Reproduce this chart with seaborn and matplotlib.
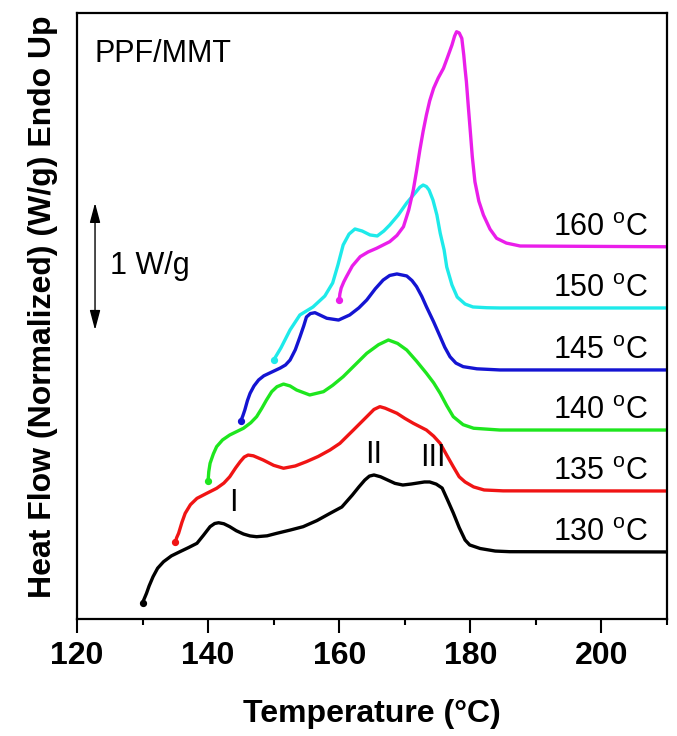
import numpy as np
import pandas as pd
import seaborn as sns
import matplotlib.pyplot as plt
from matplotlib.ticker import MultipleLocator

# curves (already stacked), temperature in C, heat flow in W/g
t130 = [130.0, 130.3, 130.6, 131.0, 131.6, 132.3, 133.2, 134.4, 135.7, 137.0, 138.3, 139.3,
        140.3, 141.0, 141.6, 142.4, 143.3, 144.3, 145.4, 146.4, 147.4, 149.0, 150.5, 152.5,
        154.5, 156.6, 158.6, 160.4, 162.0, 163.0, 163.9, 164.6, 165.3, 166.3, 167.4, 168.5,
        169.7, 171.0, 172.0, 173.0, 173.8, 174.8, 175.7, 176.5, 177.4, 178.3, 179.2, 179.9,
        181.5, 183.8, 186.0, 210.0]
h130 = [0.128, 0.165, 0.202, 0.260, 0.333, 0.400, 0.451, 0.497, 0.530, 0.562, 0.596, 0.660,
        0.727, 0.752, 0.758, 0.750, 0.727, 0.695, 0.669, 0.654, 0.648, 0.655, 0.675, 0.700,
        0.727, 0.775, 0.832, 0.882, 0.976, 1.040, 1.094, 1.125, 1.134, 1.120, 1.094, 1.068,
        1.055, 1.063, 1.071, 1.079, 1.079, 1.062, 1.031, 0.940, 0.835, 0.720, 0.622, 0.583,
        0.555, 0.535, 0.530, 0.528]

t135 = [135.0, 135.2, 135.5, 136.0, 136.5, 137.3, 138.3, 139.8, 141.3, 142.4, 143.3, 144.2,
        144.9, 145.5, 146.1, 146.9, 148.4, 150.0, 151.5, 153.3, 155.0, 156.8, 158.6, 160.1,
        162.2, 164.2, 165.3, 166.2, 167.0, 168.8, 170.0, 171.3, 173.3, 174.4, 175.4, 176.4,
        177.4, 178.3, 179.2, 180.5, 182.1, 185.0, 210.0]
h135 = [0.604, 0.640, 0.675, 0.760, 0.832, 0.900, 0.950, 0.990, 1.029, 1.070, 1.120, 1.190,
        1.239, 1.275, 1.291, 1.285, 1.252, 1.210, 1.187, 1.205, 1.239, 1.280, 1.331, 1.383,
        1.490, 1.593, 1.650, 1.672, 1.660, 1.620, 1.580, 1.541, 1.488, 1.440, 1.383, 1.290,
        1.199, 1.120, 1.079, 1.040, 1.016, 1.009, 1.008]

t140 = [140.0, 140.1, 140.3, 140.8, 141.3, 142.2, 143.3, 145.4, 146.5, 147.4, 148.2, 148.9,
        149.7, 150.5, 151.5, 152.5, 153.5, 155.5, 157.6, 159.0, 160.6, 162.4, 164.2, 166.0,
        167.5, 168.9, 170.3, 171.8, 173.3, 174.4, 175.4, 176.4, 177.4, 178.9, 180.5, 184.5,
        210.0]
h140 = [1.089, 1.160, 1.226, 1.300, 1.357, 1.410, 1.449, 1.502, 1.545, 1.593, 1.660, 1.724,
        1.790, 1.829, 1.850, 1.835, 1.803, 1.764, 1.790, 1.840, 1.908, 2.000, 2.092, 2.160,
        2.197, 2.170, 2.118, 2.030, 1.935, 1.860, 1.777, 1.680, 1.593, 1.530, 1.502, 1.488,
        1.488]

t145 = [145.0, 145.3, 145.6, 146.0, 146.4, 147.0, 147.7, 148.5, 149.4, 151.0, 151.8, 152.5,
        153.3, 154.0, 154.6, 155.0, 155.6, 156.3, 157.2, 158.1, 159.9, 161.6, 163.0, 164.2,
        165.5, 166.7, 167.7, 168.8, 170.3, 171.1, 171.8, 172.6, 173.3, 174.4, 175.4, 176.1,
        176.9, 177.8, 178.9, 181.0, 184.5, 210.0]
h145 = [1.561, 1.600, 1.646, 1.720, 1.777, 1.835, 1.882, 1.915, 1.937, 1.976, 2.000, 2.039,
        2.120, 2.220, 2.310, 2.378, 2.405, 2.412, 2.390, 2.368, 2.354, 2.394, 2.450, 2.512,
        2.600, 2.669, 2.705, 2.717, 2.701, 2.665, 2.617, 2.540, 2.459, 2.340, 2.223, 2.140,
        2.065, 2.015, 1.987, 1.970, 1.961, 1.961]

t150 = [150.0, 151.1, 152.5, 154.0, 156.0, 157.8, 159.0, 159.8, 160.6, 161.5, 162.4, 163.5,
        164.7, 165.8, 166.8, 167.7, 169.0, 170.3, 171.7, 172.3, 172.8, 173.3, 173.7, 174.3,
        174.9, 175.4, 176.0, 176.4, 177.2, 178.0, 179.2, 180.4, 182.5, 184.5, 210.0]
h150 = [2.039, 2.134, 2.276, 2.394, 2.457, 2.543, 2.646, 2.787, 2.945, 3.031, 3.071, 3.055,
        3.024, 3.016, 3.055, 3.102, 3.181, 3.276, 3.362, 3.400, 3.417, 3.405, 3.378, 3.299,
        3.181, 3.039, 2.906, 2.772, 2.630, 2.535, 2.480, 2.457, 2.451, 2.449, 2.449]

t160 = [160.0, 160.1, 160.3, 160.7, 161.1, 162.0, 163.2, 164.4, 165.7, 166.7, 167.7, 168.8,
        169.8, 170.6, 171.3, 171.8, 172.3, 172.8, 173.3, 173.8, 174.4, 175.1, 175.9, 176.5,
        177.2, 177.6, 177.9, 178.3, 178.7, 179.0, 179.2, 179.4, 179.7, 180.0, 180.3, 180.7,
        181.3, 182.0, 183.0, 184.0, 185.5, 187.6, 210.0]
h160 = [2.512, 2.560, 2.606, 2.655, 2.695, 2.780, 2.853, 2.890, 2.919, 2.945, 2.971, 3.020,
        3.089, 3.220, 3.378, 3.530, 3.693, 3.840, 3.969, 4.080, 4.179, 4.260, 4.336, 4.420,
        4.520, 4.590, 4.624, 4.615, 4.572, 4.440, 4.330, 4.231, 4.030, 3.837, 3.640, 3.443,
        3.290, 3.181, 3.070, 2.998, 2.960, 2.937, 2.931]

temps = ["130", "135", "140", "145", "150", "160"]
colors = ["#000000", "#f01414", "#1ee61e", "#1414d2", "#1eeaea", "#ea1eea"]
curves = [(t130, h130), (t135, h135), (t140, h140), (t145, h145), (t150, h150), (t160, h160)]

# peak labels
peak_names = ["I", "II", "III"]
peak_x = [143.8, 165.3, 174.3]
peak_y = [0.913, 1.29, 1.268]

sns.set_style("ticks")
plt.rcParams['font.family'] = ['Liberation Sans', 'DejaVu Sans']
plt.rcParams['mathtext.fontset'] = 'custom'
plt.rcParams['mathtext.rm'] = 'Liberation Sans'
plt.rcParams['mathtext.it'] = 'Liberation Sans:italic'
plt.rcParams['text.color'] = 'black'
plt.rcParams['axes.labelcolor'] = 'black'
plt.rcParams['axes.edgecolor'] = 'black'
plt.rcParams['xtick.color'] = 'black'
plt.rcParams['ytick.color'] = 'black'

fig = plt.figure(figsize=(6.77, 7.36), dpi=100)
ax = fig.add_axes([77 / 677, 1 - 619 / 736, 590 / 677, 606 / 736])

rows = []
for name, (t, h) in zip(temps, curves):
    for a, b in zip(t, h):
        rows.append((name, a, b))
df = pd.DataFrame(rows, columns=["Tc", "T", "H"])

sns.lineplot(data=df, x="T", y="H", hue="Tc", palette=dict(zip(temps, colors)),
             estimator=None, sort=False, linewidth=2.4, legend=False, ax=ax)
for line in ax.lines:
    line.set_solid_capstyle("round")
    line.set_solid_joinstyle("round")

for name, (t, h), c in zip(temps, curves, colors):
    ax.plot(t[0], h[0], "o", color=c, markersize=4.2, zorder=3)
    ax.text(207.1, h[-1] + 0.085, name + r" $^{\mathrm{o}}$C", ha="right", va="baseline",
            fontsize=22)

for s, x, y in zip(peak_names, peak_x, peak_y):
    ax.text(x, y, s, ha="center", va="center", fontsize=22)

ax.text(122.7, 4.45, "PPF/MMT", ha="left", va="center", fontsize=22)
ax.annotate("", xy=(122.75, 3.276), xytext=(122.75, 2.276),
            arrowprops=dict(arrowstyle="<|-|>,head_length=0.6,head_width=0.16",
                            mutation_scale=20, color="black", lw=1.0,
                            shrinkA=0, shrinkB=0))
ax.text(125.0, 2.776, "1 W/g", ha="left", va="center", fontsize=22)

ax.set_xlim(120, 210)
ax.set_ylim(0, 606 / 127)
ax.set_yticks([])
ax.xaxis.set_major_locator(MultipleLocator(20))
ax.xaxis.set_minor_locator(MultipleLocator(10))
ax.tick_params(axis="x", which="major", direction="out", length=10, width=1.5,
               labelsize=23, pad=6)
ax.tick_params(axis="x", which="minor", direction="out", length=4.5, width=1.5)
for lab in ax.get_xticklabels():
    lab.set_fontweight("bold")
for sp in ax.spines.values():
    sp.set_visible(True)
    sp.set_linewidth(1.6)

ax.set_xlabel("Temperature (°C)", fontsize=23, fontweight="bold", labelpad=20)
ax.set_ylabel("Heat Flow (Normalized) (W/g) Endo Up", fontsize=23, fontweight="bold")
ax.yaxis.set_label_coords(-0.032, 0.516)

fig.savefig("out.png", dpi=100)
